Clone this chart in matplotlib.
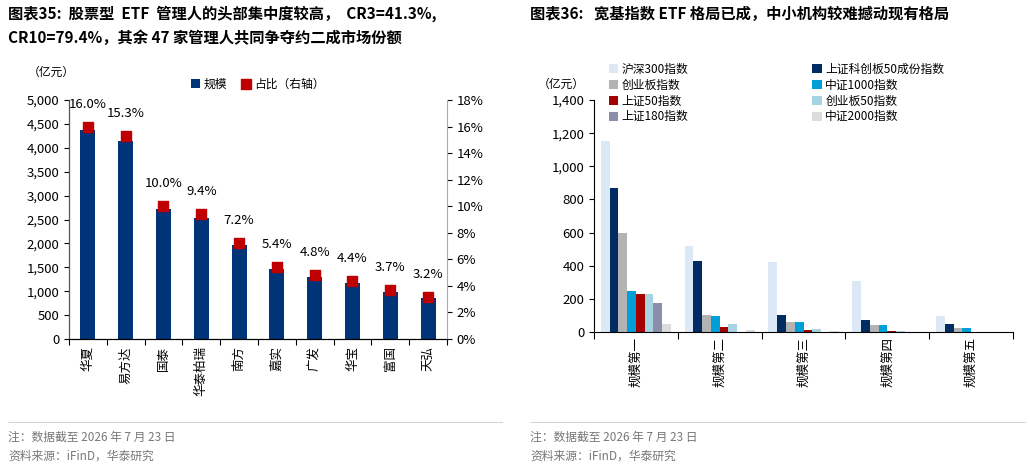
import matplotlib
matplotlib.use("Agg")
import matplotlib.pyplot as plt
import numpy as np
from matplotlib.ticker import FuncFormatter

plt.rcParams['font.family'] = ['Noto Sans CJK SC', 'DejaVu Sans']

managers = ['华夏', '易方达', '国泰', '华泰柏瑞', '南方', '嘉实', '广发', '华宝', '富国', '天弘']
scale = [4370, 4150, 2720, 2540, 1960, 1470, 1290, 1180, 990, 860]
share = [16.0, 15.3, 10.0, 9.4, 7.2, 5.4, 4.8, 4.4, 3.7, 3.2]

groups = ['规模第一', '规模第二', '规模第三', '规模第四', '规模第五']
series_names = ['沪深300指数', '上证科创板50成份指数', '创业板指数', '中证1000指数',
                '上证50指数', '创业板50指数', '上证180指数', '中证2000指数']
series_vals = [
    [1150, 520, 420, 310, 95],
    [870, 430, 100, 75, 50],
    [595, 100, 62, 45, 25],
    [250, 97, 62, 40, 22],
    [232, 33, 15, 8, 0],
    [228, 50, 20, 5, 0],
    [178, 0, 0, 0, 0],
    [50, 12, 8, 2, 0],
]
colors = ['#dce8f5', '#002c62', '#b3b3b3', '#009fd8', '#a50000', '#a8d3e3', '#8a8ea8', '#dcdcdc']

W, H = 1030, 468
fig = plt.figure(figsize=(W/100, H/100), dpi=100)
def ax_at(l, t, r, b):
    return fig.add_axes([l/W, 1-b/H, (r-l)/W, (b-t)/H])

fig.text(8/W, 1-14/H, '图表35:  股票型  ETF  管理人的头部集中度较高，  CR3=41.3%,', fontsize=11, fontweight='bold', va='center')
fig.text(8/W, 1-38/H, 'CR10=79.4%，其余 47 家管理人共同争夺约二成市场份额', fontsize=11, fontweight='bold', va='center')
fig.text(530/W, 1-14/H, '图表36:   宽基指数 ETF 格局已成，中小机构较难撼动现有格局', fontsize=11, fontweight='bold', va='center')
for x0, x1 in [(8, 502), (530, 1025)]:
    fig.add_artist(plt.Line2D([x0/W, x1/W], [1-422/H]*2, color='#cccccc', lw=0.6))
    fig.text(x0/W, 1-437/H, '注：数据截至 2026 年 7 月 23 日', fontsize=8.5, color='#777777', va='center')
    fig.text(x0/W, 1-456/H, '资料来源：iFinD，华泰研究', fontsize=8.5, color='#777777', va='center')

# Left chart
ax = ax_at(69, 100, 447, 339)
x = np.arange(len(managers))
ax.bar(x, scale, width=0.4, color='#003478', label='规模')
ax.set_ylim(0, 5000)
ax.set_yticks(range(0, 5001, 500))
ax.yaxis.set_major_formatter(FuncFormatter(lambda v, p: f'{int(v):,}'))
ax.set_xlim(-0.5, len(managers)-0.5)
ax.set_xticks(np.arange(-0.5, len(managers), 1))
ax.set_xticklabels([])
ax.tick_params(axis='x', length=4, direction='out')
for i, m in enumerate(managers):
    ax.text(i, -150, m, rotation=90, ha='center', va='top', fontsize=9)
ax2 = ax.twinx()
ax2.scatter(x, share, marker='s', s=60, color='#c00000', zorder=3, label='占比（右轴）')
ax2.set_ylim(0, 18)
ax2.set_yticks(range(0, 19, 2))
ax2.yaxis.set_major_formatter(FuncFormatter(lambda v, p: f'{int(v)}%'))
for i, s in enumerate(share):
    ax2.text(i, s + 1.2, f'{s:.1f}%', ha='center', va='bottom', fontsize=9.5)
for a in (ax, ax2):
    a.spines['top'].set_visible(False)
    a.tick_params(labelsize=9.5)
ax.spines['right'].set_visible(False)
ax2.spines['left'].set_color('#555555')
ax2.spines['right'].set_color('#aaaaaa')
fig.text(28/W, 1-72/H, '（亿元）', fontsize=8.5, va='center')
h1, l1 = ax.get_legend_handles_labels()
h2, l2 = ax2.get_legend_handles_labels()
fig.legend(h1 + h2, l1 + l2, loc='center', bbox_to_anchor=(258/W, 1-84/H), ncol=2, frameon=False,
           fontsize=8.5, handlelength=0.8, handleheight=0.8, columnspacing=1.2, handletextpad=0.3)

# Right chart
bx = ax_at(594, 100, 1013, 332)
n = len(series_names)
bw = 0.105
gx = np.arange(len(groups))
for k in range(n):
    bx.bar(gx - 0.42 + bw*(k+0.5), series_vals[k], width=bw, color=colors[k], label=series_names[k])
bx.set_ylim(0, 1400)
bx.set_yticks(range(0, 1401, 200))
bx.yaxis.set_major_formatter(FuncFormatter(lambda v, p: f'{int(v):,}'))
bx.set_xlim(-0.5, len(groups)-0.5)
bx.set_xticks(np.arange(-0.5, len(groups), 1))
bx.set_xticklabels([])
bx.tick_params(axis='x', length=5)
for i, g in enumerate(groups):
    bx.text(i, -30, g, rotation=90, ha='center', va='top', fontsize=9)
bx.spines['top'].set_visible(False)
bx.spines['right'].set_visible(False)
bx.tick_params(labelsize=9.5)
fig.text(538/W, 1-84/H, '（亿元）', fontsize=8.5, va='center')
hh, ll = bx.get_legend_handles_labels()
order = [0, 2, 4, 6, 1, 3, 5, 7]
fig.legend([hh[i] for i in order], [ll[i] for i in order], loc='upper left', bbox_to_anchor=(598/W, 1-52/H), ncol=2,
           frameon=False, fontsize=8.5, handlelength=0.8, handleheight=0.8, columnspacing=10.5,
           handletextpad=0.3, labelspacing=0.25)

fig.savefig('out.png', dpi=100)
